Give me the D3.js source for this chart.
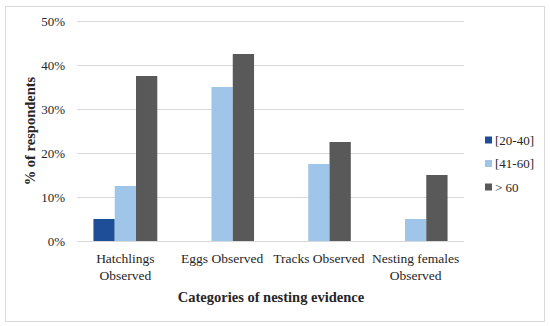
<!DOCTYPE html>
<html>
<head>
<meta charset="utf-8">
<script src="https://cdn.jsdelivr.net/npm/d3@7"></script>
<style>
  body { margin: 0; background: #fff; }
  text { font-family: "Liberation Serif", "Times New Roman", serif; fill: #262626; }
</style>
</head>
<body>
<script>
const categories = ["Hatchlings Observed", "Eggs Observed", "Tracks Observed", "Nesting females Observed"];
const categoryLines = [["Hatchlings", "Observed"], ["Eggs Observed"], ["Tracks Observed"], ["Nesting females", "Observed"]];
const seriesNames = ["[20-40]", "[41-60]", "> 60"];
const age20to40 = [5, 0, 0, 0];
const age41to60 = [12.5, 35, 17.5, 5];
const ageOver60 = [37.5, 42.5, 22.5, 15];
const yTicks = [0, 10, 20, 30, 40, 50];
const colors = ["#1f4e99", "#9fc5e8", "#595959"];

const series = [age20to40, age41to60, ageOver60];

const wSvg = 550;
const hSvg = 326;
const plotLeft = 77, plotRight = 464, plotTop = 21, plotBottom = 241;

let svg = d3.select("body")
  .append("svg")
  .attr("width", wSvg)
  .attr("height", hSvg);

// outer frame
svg.append("rect")
  .attr("x", 5.5)
  .attr("y", 6.5)
  .attr("width", 539)
  .attr("height", 315)
  .attr("fill", "none")
  .attr("stroke", "#d9d9d9");

let xScale = d3.scaleBand(categories, [plotLeft, plotRight]).paddingInner(0.34).paddingOuter(0.17);
let xInner = d3.scaleBand(seriesNames, [0, xScale.bandwidth()]);
let yScale = d3.scaleLinear([0, 50], [plotBottom, plotTop]);

// gridlines
svg.append("g")
  .selectAll("line")
  .data(yTicks)
  .enter()
  .append("line")
  .attr("x1", plotLeft)
  .attr("x2", plotRight)
  .attr("y1", d => Math.round(yScale(d)) + 0.5)
  .attr("y2", d => Math.round(yScale(d)) + 0.5)
  .attr("stroke", "#d9d9d9")
  .attr("stroke-width", 1);

// y tick labels
let yAxis = svg.append("g")
  .attr("transform", `translate(${plotLeft}, 0)`)
  .call(d3.axisLeft(yScale).tickValues(yTicks).tickFormat(d => d + "%").tickSize(0).tickPadding(12));
yAxis.select(".domain").remove();
yAxis.selectAll("text")
  .attr("font-size", "13px")
  .attr("font-family", "Liberation Serif")
  .attr("fill", "#404040");

// bars
let groups = svg.append("g")
  .selectAll("g")
  .data(series)
  .enter()
  .append("g")
  .attr("fill", (d, i) => colors[i])
  .attr("transform", (d, i) => `translate(${xInner(seriesNames[i])}, 0)`);

groups.selectAll("rect")
  .data(d => d)
  .enter()
  .append("rect")
  .attr("x", (d, i) => xScale(categories[i]))
  .attr("y", d => yScale(d))
  .attr("width", xInner.bandwidth())
  .attr("height", d => yScale(0) - yScale(d));

// x category labels
let xLabels = svg.append("g")
  .selectAll("text")
  .data(categories)
  .enter()
  .append("text")
  .attr("x", d => xScale(d) + xScale.bandwidth() / 2)
  .attr("y", 263)
  .attr("text-anchor", "middle")
  .attr("font-size", "13.5px")
  .attr("fill", "#404040");

xLabels.selectAll("tspan")
  .data((d, i) => categoryLines[i])
  .enter()
  .append("tspan")
  .attr("x", function() { return this.parentNode.getAttribute("x"); })
  .attr("dy", (d, i) => i === 0 ? 0 : 17)
  .text(d => d);

// axis titles
svg.append("text")
  .attr("x", 271)
  .attr("y", 302)
  .attr("text-anchor", "middle")
  .attr("font-size", "14.5px")
  .attr("font-weight", "bold")
  .attr("fill", "#000")
  .text("Categories of nesting evidence");

svg.append("text")
  .attr("transform", "translate(35, 131) rotate(-90)")
  .attr("text-anchor", "middle")
  .attr("font-size", "14.5px")
  .attr("font-weight", "bold")
  .attr("fill", "#000")
  .text("% of respondents");

// legend
let legend = svg.append("g")
  .selectAll("g")
  .data(seriesNames)
  .enter()
  .append("g")
  .attr("transform", (d, i) => `translate(485, ${140 + i * 23.5})`);

legend.append("rect")
  .attr("x", 0)
  .attr("y", -3.5)
  .attr("width", 7)
  .attr("height", 7)
  .attr("fill", (d, i) => colors[i]);

legend.append("text")
  .attr("x", 10)
  .attr("y", 0)
  .attr("dy", "0.35em")
  .attr("font-size", "13px")
  .attr("fill", "#404040")
  .text(d => d);
</script>
</body>
</html>
